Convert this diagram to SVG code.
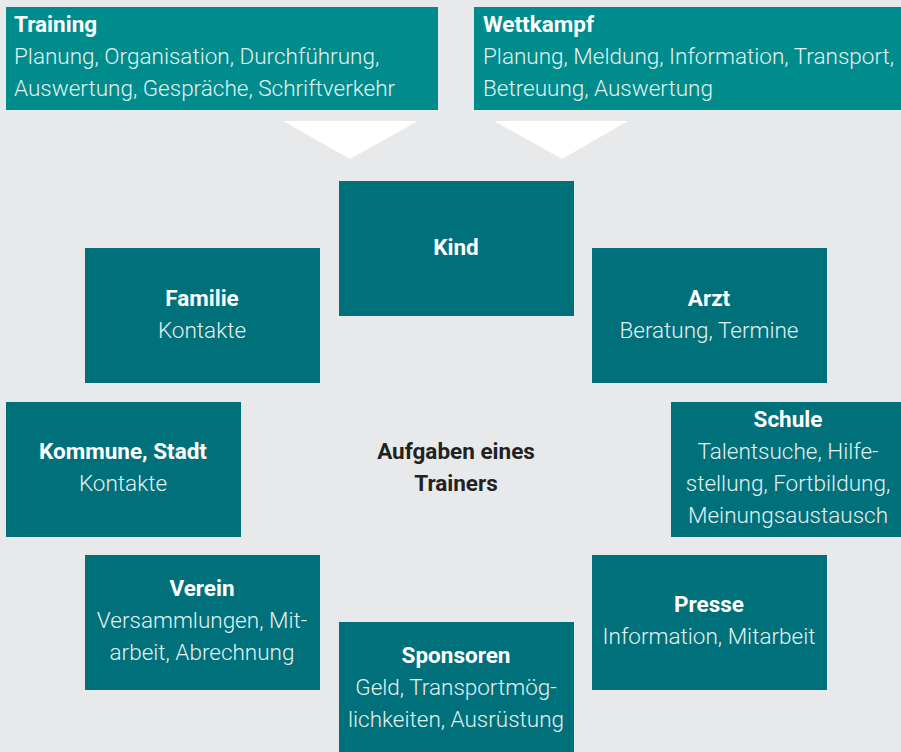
<svg xmlns="http://www.w3.org/2000/svg" width="901" height="752" viewBox="0 0 901 752">
<style>
.bg{fill:#E8E9EB}
.top{fill:#008C8C}
.box{fill:#00707A}
.tri{fill:#FFFFFF}
text{font-family:Roboto,"Liberation Sans",sans-serif;font-size:22.5px}
.t{fill:#FFFFFF;font-weight:700}
.b{fill:#E3F1F1;font-weight:300;font-family:"Roboto Light",Roboto,"Liberation Sans",sans-serif}
.c{text-anchor:middle}
.ctr{fill:#222222;font-weight:700;text-anchor:middle}
</style>
<rect class="bg" x="0" y="0" width="901" height="752"/>
<g id="connectors">
<polygon class="tri" points="283,121 418,121 350,159"/>
<polygon class="tri" points="494,121 628,121 562,159"/>
</g>
<g id="training">
<rect class="top" x="6" y="7" width="432" height="103"/>
<text class="t" x="14" y="32">Training</text>
<text class="b" x="14" y="64">Planung, Organisation, Durchführung,</text>
<text class="b" x="14" y="96">Auswertung, Gespräche, Schriftverkehr</text>
</g>
<g id="wettkampf">
<rect class="top" x="474" y="7" width="427" height="103"/>
<text class="t" x="483" y="32">Wettkampf</text>
<text class="b" x="483" y="64">Planung, Meldung, Information, Transport,</text>
<text class="b" x="483" y="96">Betreuung, Auswertung</text>
</g>
<g id="kind">
<rect class="box" x="339" y="181" width="235" height="135"/>
<text class="t c" x="456" y="255">Kind</text>
</g>
<g id="familie">
<rect class="box" x="85" y="248" width="235" height="135"/>
<text class="t c" x="202" y="306">Familie</text>
<text class="b c" x="202" y="338">Kontakte</text>
</g>
<g id="arzt">
<rect class="box" x="592" y="248" width="235" height="135"/>
<text class="t c" x="709" y="306">Arzt</text>
<text class="b c" x="709" y="338">Beratung, Termine</text>
</g>
<g id="kommune">
<rect class="box" x="6" y="402" width="235" height="135"/>
<text class="t c" x="123" y="459">Kommune, Stadt</text>
<text class="b c" x="123" y="491">Kontakte</text>
</g>
<g id="center">
<text class="ctr" x="456" y="459">Aufgaben eines</text>
<text class="ctr" x="456" y="491">Trainers</text>
</g>
<g id="schule">
<rect class="box" x="671" y="402" width="230" height="135"/>
<text class="t c" x="788" y="427">Schule</text>
<text class="b c" x="788" y="459">Talentsuche, Hilfe-</text>
<text class="b c" x="788" y="491">stellung, Fortbildung,</text>
<text class="b c" x="788" y="523">Meinungsaustausch</text>
</g>
<g id="verein">
<rect class="box" x="85" y="555" width="235" height="135"/>
<text class="t c" x="202" y="596">Verein</text>
<text class="b c" x="202" y="628">Versammlungen, Mit-</text>
<text class="b c" x="202" y="660">arbeit, Abrechnung</text>
</g>
<g id="presse">
<rect class="box" x="592" y="555" width="235" height="135"/>
<text class="t c" x="709" y="612">Presse</text>
<text class="b c" x="709" y="644">Information, Mitarbeit</text>
</g>
<g id="sponsoren">
<rect class="box" x="339" y="622" width="235" height="130"/>
<text class="t c" x="456" y="663">Sponsoren</text>
<text class="b c" x="456" y="695">Geld, Transportmög-</text>
<text class="b c" x="456" y="727">lichkeiten, Ausrüstung</text>
</g>
</svg>
